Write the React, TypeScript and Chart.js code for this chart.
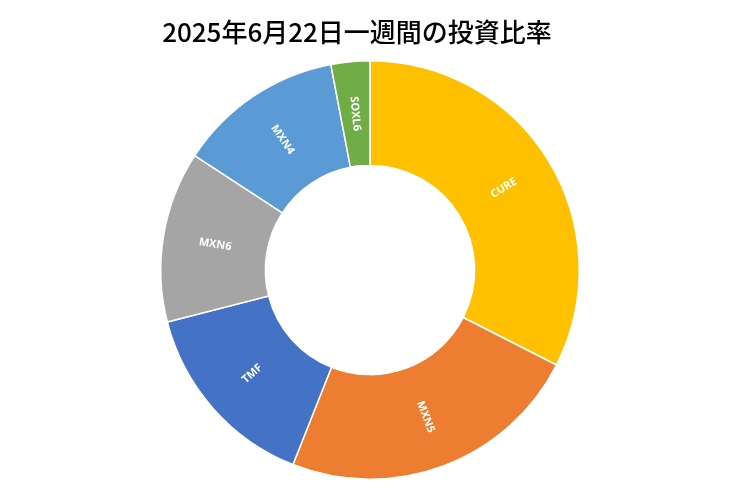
import { useEffect, useRef } from 'react';
import { Chart, registerables } from 'chart.js';

Chart.register(...registerables);

const TITLE = '2025年6月22日一週間の投資比率';
const labels = ['CURE', 'MXN5', 'TMF', 'MXN6', 'MXN4', 'SOXL6'];
const ratios = [32.5, 23.5, 15.0, 13.2, 12.8, 3.0];
const colors = ['#FFC000', '#ED7D31', '#4472C4', '#A5A5A5', '#5B9BD5', '#70AD47'];

// title drawn by hand so it sits where the reference has it
const titlePlugin = {
  id: 'titleText',
  afterDraw(chart: any) {
    const ctx = chart.ctx;
    ctx.save();
    ctx.fillStyle = '#000';
    ctx.font = '500 26px "Noto Sans CJK JP", "Noto Sans", sans-serif';
    ctx.textAlign = 'center';
    ctx.textBaseline = 'middle';
    ctx.fillText(TITLE, 357, 32);
    ctx.restore();
  },
};

// labels inside each slice, turned along the radius
const sliceLabels = {
  id: 'sliceLabels',
  afterDatasetsDraw(chart: any) {
    const ctx = chart.ctx;
    const meta = chart.getDatasetMeta(0);
    ctx.fillStyle = '#fff';
    ctx.font = 'bold 11px "Open Sans", sans-serif';
    ctx.textAlign = 'center';
    ctx.textBaseline = 'middle';
    meta.data.forEach((arc: any, i: number) => {
      const p = arc.getProps(['x', 'y', 'startAngle', 'endAngle', 'innerRadius', 'outerRadius']);
      const mid = (p.startAngle + p.endAngle) / 2;
      const r = (p.innerRadius + p.outerRadius) / 2;
      const x = p.x + Math.cos(mid) * r;
      const y = p.y + Math.sin(mid) * r;
      let rot = mid;
      const norm = ((rot % (2 * Math.PI)) + 2 * Math.PI) % (2 * Math.PI);
      if (norm > Math.PI / 2 && norm < (3 * Math.PI) / 2) rot += Math.PI;
      ctx.save();
      ctx.translate(x, y);
      ctx.rotate(rot);
      ctx.fillText(labels[i], 0, 0);
      ctx.restore();
    });
  },
};

function RatioDoughnut() {
  const chartRef = useRef<HTMLCanvasElement>(null);
  const chartInstance = useRef<Chart | null>(null);

  useEffect(() => {
    if (chartRef.current) {
      const ctx = chartRef.current.getContext('2d');
      if (ctx) {
        if (chartInstance.current) {
          chartInstance.current.destroy();
        }
        chartInstance.current = new Chart(ctx, {
          type: 'doughnut',
          data: {
            labels: labels,
            datasets: [
              {
                data: ratios,
                backgroundColor: colors,
                borderColor: '#fff',
                borderWidth: 1.5,
              },
            ],
          },
          options: {
            animation: false,
            responsive: true,
            maintainAspectRatio: false,
            cutout: '50%',
            layout: {
              padding: { top: 60, bottom: 13, left: 0, right: 0 },
            },
            plugins: {
              legend: { display: false },
              title: { display: false },
              tooltip: { enabled: false },
            },
          },
          plugins: [titlePlugin, sliceLabels],
        });
      }
    }

    return () => {
      if (chartInstance.current) {
        chartInstance.current.destroy();
        chartInstance.current = null;
      }
    };
  }, []);

  return (
    <div style={{ position: 'absolute', left: 0, top: 0, width: 740, height: 493, background: '#fff' }}>
      <canvas ref={chartRef}></canvas>
    </div>
  );
}

export default function App() {
  return <RatioDoughnut />;
}
